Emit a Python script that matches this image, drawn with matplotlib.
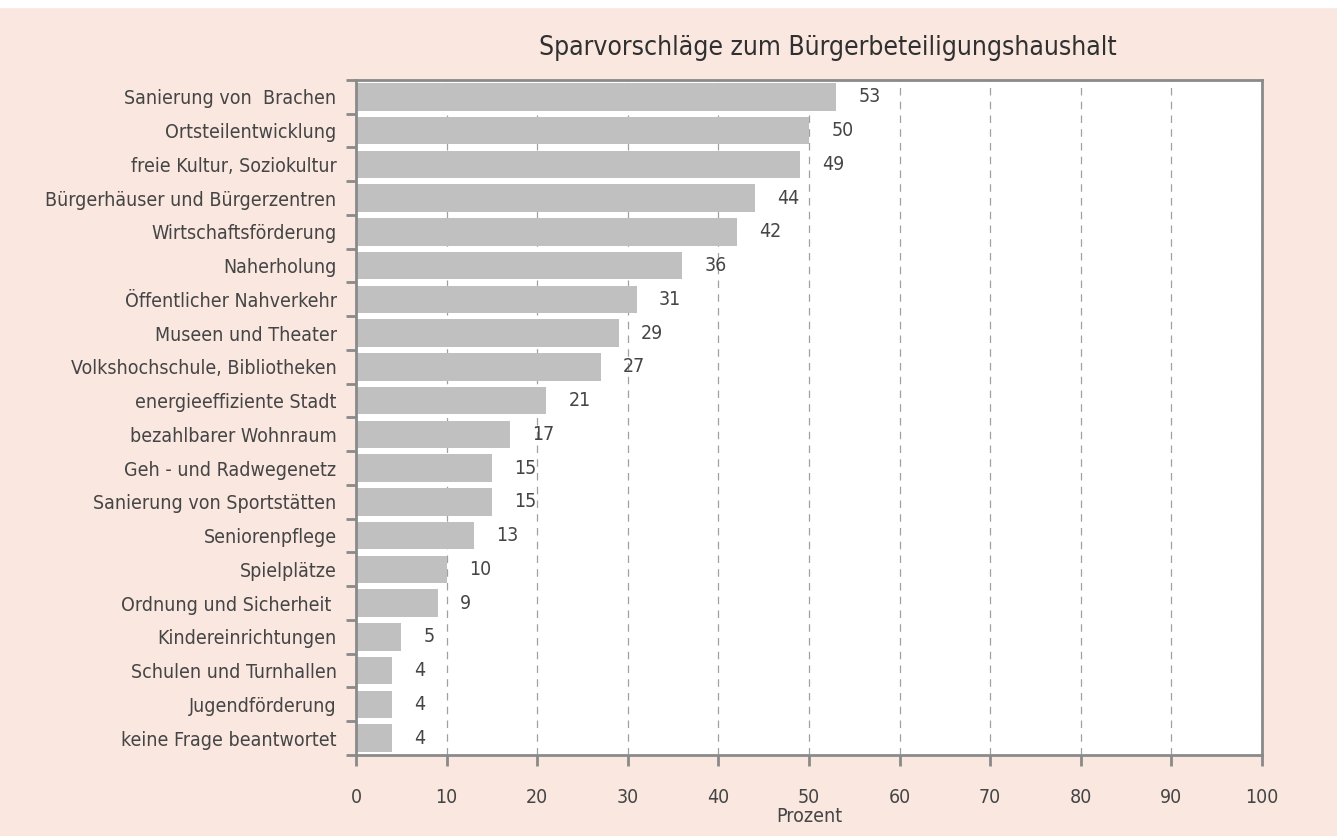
import numpy as np
import matplotlib.pyplot as plt

# Daten
kategorien = [
    'Sanierung von  Brachen', 'Ortsteilentwicklung', 'freie Kultur, Soziokultur',
    'Bürgerhäuser und Bürgerzentren', 'Wirtschaftsförderung', 'Naherholung',
    'Öffentlicher Nahverkehr', 'Museen und Theater', 'Volkshochschule, Bibliotheken',
    'energieeffiziente Stadt', 'bezahlbarer Wohnraum', 'Geh - und Radwegenetz',
    'Sanierung von Sportstätten', 'Seniorenpflege', 'Spielplätze',
    'Ordnung und Sicherheit ', 'Kindereinrichtungen', 'Schulen und Turnhallen',
    'Jugendförderung', 'keine Frage beantwortet',
]
prozent = [53, 50, 49, 44, 42, 36, 31, 29, 27, 21, 17, 15, 15, 13, 10, 9, 5, 4, 4, 4]
xticks = [0, 10, 20, 30, 40, 50, 60, 70, 80, 90, 100]

titel = 'Sparvorschläge zum Bürgerbeteiligungshaushalt'

bg = '#f9e7e0'
grau = '#8a8a8a'
text = '#454545'

plt.rcParams['font.family'] = ['DejaVu Sans']
plt.rcParams['font.stretch'] = 'condensed'

fig = plt.figure(figsize=(13.37, 8.36), dpi=100, facecolor=bg)
ax = fig.add_axes([356/1337, 1 - 755/836, (1262 - 356)/1337, (755 - 80)/836])
ax.set_facecolor('white')

y = np.arange(len(kategorien))
ax.barh(y, prozent, height=0.82, color='#c0c0c0', zorder=2)
for yi, v in zip(y, prozent):
    ax.annotate(str(v), (v, yi), xytext=(16, 0), textcoords='offset points',
                va='center', ha='left', fontsize=14, color=text)

ax.set_xlim(0, 100)
ax.set_ylim(len(kategorien) - 0.5, -0.5)
ax.set_xticks(xticks)
ax.set_yticks(y)
ax.set_yticklabels(kategorien)
ax.set_yticks(np.arange(len(kategorien) + 1) - 0.5, minor=True)
ax.tick_params(axis='y', which='major', length=0, pad=14, labelsize=14, labelcolor=text)
ax.tick_params(axis='y', which='minor', length=7, width=2, color=grau, direction='out')
ax.tick_params(axis='x', length=8, width=2, color=grau, pad=16, labelsize=14, labelcolor=text)

ax.grid(axis='x', linestyle=(0, (6, 5)), color='#a0a0a0', linewidth=0.9, zorder=1)
for s in ax.spines.values():
    s.set_color(grau)
    s.set_linewidth(2)

ax.set_xlabel('Prozent', fontsize=14, color=text, labelpad=0)
fig.text(828/1337, 1 - 48/836, titel, ha='center', va='center', fontsize=19, color='#303030')

# weisser Streifen oben
fig.patches.append(plt.Rectangle((0, 1 - 7/836), 1, 7/836, transform=fig.transFigure,
                                 color='white', zorder=0))

fig.savefig('out.png', dpi=100, facecolor=bg)
